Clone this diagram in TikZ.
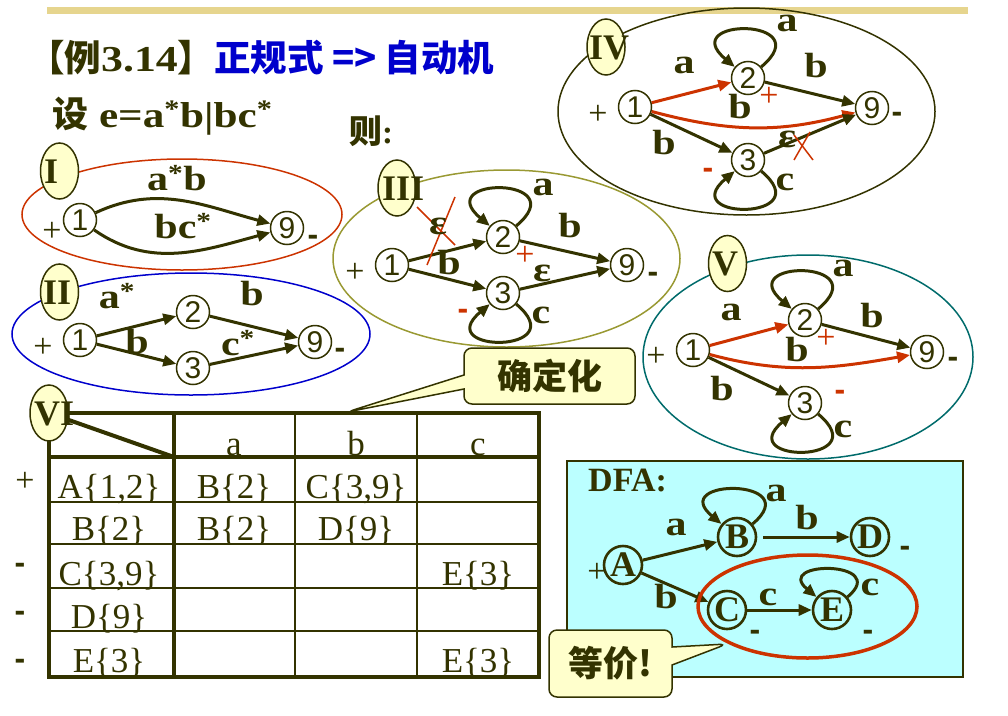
\documentclass[tikz,border=0pt]{standalone}
\usepackage{fontspec}
\usepackage{tikz}
\usetikzlibrary{arrows.meta,shapes.geometric,shapes.callouts}
\setmainfont{Liberation Serif}
\newfontfamily\cjk{Noto Sans CJK SC}
\newfontfamily\sansdigit{Liberation Sans}
\newfontfamily\labfont[FakeStretch=1.2]{Liberation Serif}
\definecolor{ink}{HTML}{333300}
\definecolor{navy}{HTML}{0000CC}
\definecolor{rust}{HTML}{CC3300}
\definecolor{sand}{HTML}{E6D58E}
\definecolor{olive}{HTML}{999933}
\definecolor{teal}{HTML}{006B6B}
\definecolor{note}{HTML}{FFFFCC}
\definecolor{sky}{HTML}{BBFFFF}
\tikzset{
  st/.style={circle, draw=ink, line width=1.5pt, inner sep=0pt, minimum size=33pt, text=ink, font=\sansdigit\fontsize{30}{30}\selectfont},
  dst/.style={circle, draw=ink, line width=2.6pt, inner sep=0pt, minimum size=38pt, text=ink, font=\fontsize{36}{36}\selectfont\bfseries},
  tr/.style={-{Triangle[length=13pt,width=11pt]}, line width=3pt, draw=ink},
  hot/.style={tr, draw=rust},
  lp/.style={tr, looseness=7.5},
  lab/.style={text=ink, font=\labfont\fontsize{35}{35}\selectfont\bfseries, inner sep=0pt},
  pl/.style={text=ink, font=\fontsize{34}{34}\selectfont, inner sep=0pt},
  mn/.style={text=ink, font=\sansdigit\fontsize{32}{32}\selectfont\bfseries, inner sep=0pt},
  tag/.style={ellipse, draw=ink, fill=note, line width=1.5pt, minimum width=38pt, minimum height=56pt, inner sep=0pt},
  roman/.style={text=ink, font=\fontsize{36}{36}\selectfont\bfseries, inner sep=0pt, anchor=west},
  panel/.style={line width=1.5pt},
  strike/.style={draw=rust, line width=1.5pt},
  tline/.style={draw=ink, line width=2.5pt},
  tframe/.style={draw=ink, line width=4pt},
  cellt/.style={text=ink, font=\fontsize{35}{35}\selectfont, inner sep=0pt, anchor=base},
  tipbox/.style={rectangle callout, draw=ink, fill=note, line width=1.5pt, rounded corners=8pt, inner sep=0pt, text=ink, font=\cjk\fontsize{35}{35}\selectfont\bfseries}
}

\begin{document}
\begin{tikzpicture}[x=1pt, y=-1pt]
  \useasboundingbox (0,0) rectangle (1008,715);

  % top rule
  \draw[sand, line width=7pt] (47,10) -- (968,10);

  % heading
  \node[anchor=west, inner sep=0pt, text=ink, font=\fontsize{36.5}{36.5}\selectfont\bfseries] (title) at (28,58)
    {{\cjk 【例}{\labfont 3.14}{\cjk 】}{\cjk\color{navy}正规式 => 自动机}};
  \node[anchor=base west, inner sep=0pt, text=ink, font=\labfont\fontsize{36}{36}\selectfont\bfseries] (expr) at (52,127)
    {{\cjk 设} e=a\textsuperscript{*}b|bc\textsuperscript{*}};
  \node[inner sep=0pt, text=ink, font=\fontsize{33}{33}\selectfont\bfseries] (then) at (371,131) {{\cjk 则}:};

  % panel I
  \draw[panel, rust] (182,214.5) ellipse [x radius=160pt, y radius=55.5pt];
  \node[tag] (tI) at (59.5,171) {};
  \node[roman] at (44,172) {I};
  \node[st] (I1) at (80,220) {1};
  \node[st] (I9) at (287,228) {9};
  \draw[tr] (I1) to[out=25, in=165] (I9);
  \draw[tr] (I1) to[out=-35, in=195] (I9);
  \node[lab] at (177,178) {a\textsuperscript{*}b};
  \node[lab] at (183,226) {bc\textsuperscript{*}};
  \node[pl] at (52,232) {+};
  \node[mn] at (313,240) {-};

  % panel II
  \draw[panel, navy] (191,334) ellipse [x radius=179pt, y radius=61pt];
  \node[tag] (tII) at (59.5,292) {};
  \node[roman] at (43,293) {II};
  \foreach \n/\x/\y in {1/80/340, 2/193/312, 3/193/368, 9/315/342}
    \node[st] (II\n) at (\x,\y) {\n};
  \draw[tr] (II1) -- (II2);
  \draw[tr] (II1) -- (II3);
  \draw[tr] (II2) -- (II9);
  \draw[tr] (II3) -- (II9);
  \foreach \t/\x/\y in {a\textsuperscript{*}/117/296, b/252/294, b/137/342, c\textsuperscript{*}/238/343}
    \node[lab] at (\x,\y) {\t};
  \node[pl] at (43,348) {+};
  \node[mn] at (340,353) {-};

  % panel III
  \draw[panel, olive] (506.5,258.5) ellipse [x radius=173.5pt, y radius=88.5pt];
  \node[tag] (tIII) at (397,188) {};
  \node[roman] at (382,189) {III};
  \foreach \n/\x/\y in {1/392/265, 2/503/237, 3/503/293, 9/627/265}
    \node[st] (III\n) at (\x,\y) {\n};
  \draw[tr] (III1) -- (III2);
  \draw[tr] (III1) -- (III3);
  \draw[tr] (III2) -- (III9);
  \draw[tr] (III3) -- (III9);
  \draw[lp] (III2) to[out=40, in=140] (III2);
  \draw[lp] (III3) to[out=-40, in=-140] (III3);
  \draw[strike] (417,207) -- (455,245);
  \draw[strike] (455,197) -- (427,265);
  \foreach \t/\x/\y in {a/543/187, ε/438/226, b/449/263, b/570/226, ε/542/273, c/541/315}
    \node[lab] at (\x,\y) {\t};
  \node[pl] at (355,273) {+};
  \node[mn] at (653,277) {-};
  \node[pl, text=rust] at (525,256) {+};
  \node[mn, text=rust] at (463,314) {-};

  % panel IV
  \draw[panel, ink] (746.5,111.5) ellipse [x radius=188.5pt, y radius=103.5pt];
  \node[tag] (tIV) at (606,47) {};
  \node[roman] at (589,48) {IV};
  \foreach \n/\x/\y in {1/635/107, 2/748/78, 3/748/160, 9/872/108}
    \node[st] (IV\n) at (\x,\y) {\n};
  \draw[hot] (IV1) -- (IV2);
  \draw[hot] (IV1) to[out=-15, in=195] (IV9);
  \draw[tr] (IV2) -- (IV9);
  \draw[tr] (IV1) -- (IV3);
  \draw[tr] (IV3) -- (IV9);
  \draw[lp] (IV2) to[out=40, in=140] (IV2);
  \draw[lp] (IV3) to[out=-40, in=-140] (IV3);
  \draw[strike] (794,135) -- (813,160);
  \draw[strike] (810,132) -- (794,160);
  \foreach \t/\x/\y in {a/787/23, a/684/65, b/816/66, b/740/107, b/664/143, ε/787/139, c/785/182}
    \node[lab] at (\x,\y) {\t};
  \node[pl] at (598,115) {+};
  \node[mn] at (897,117) {-};
  \node[pl, text=rust] at (769,97) {+};
  \node[mn, text=rust] at (708,173) {-};

  % panel V
  \draw[panel, teal] (808,357) ellipse [x radius=165pt, y radius=102pt];
  \node[tag] (tV) at (727.5,263.5) {};
  \node[roman] at (712,264) {V};
  \foreach \n/\x/\y in {1/693/350, 2/805/320, 3/805/403, 9/927/352}
    \node[st] (V\n) at (\x,\y) {\n};
  \draw[hot] (V1) -- (V2);
  \draw[hot] (V1) to[out=-15, in=190] (V9);
  \draw[tr] (V2) -- (V9);
  \draw[tr] (V1) -- (V3);
  \draw[lp] (V2) to[out=40, in=140] (V2);
  \draw[lp] (V3) to[out=-40, in=-140] (V3);
  \foreach \t/\x/\y in {a/843/268, a/731/312, b/872/316, b/797/350, b/722/389, c/843/429}
    \node[lab] at (\x,\y) {\t};
  \node[pl] at (656,357) {+};
  \node[mn] at (953,362) {-};
  \node[pl, text=rust] at (826,339) {+};
  \node[mn, text=rust] at (840,395) {-};

  % table VI
  \foreach \y in {502,544,588,631}
    \draw[tline] (49,\y) -- (539,\y);
  \foreach \x in {295,417}
    \draw[tline] (\x,413) -- (\x,677);
  \draw[tframe] (174,413) -- (174,677);
  \draw[tframe] (49,457) -- (539,457);
  \draw[tframe] (49,413) -- (174,457);
  \draw[tframe] (49,413) rectangle (539,677);
  \foreach \x/\t in {234/a, 356/b, 478/c}
    \node[cellt] at (\x,455) {\t};
  \foreach \x/\y/\t in {109/498/{A\{1,2\}}, 234/498/{B\{2\}}, 356/498/{C\{3,9\}},
                        109/540/{B\{2\}}, 234/540/{B\{2\}}, 356/540/{D\{9\}},
                        109/585/{C\{3,9\}}, 478/585/{E\{3\}},
                        109/628/{D\{9\}},
                        109/672/{E\{3\}}, 478/672/{E\{3\}}}
    \node[cellt] at (\x,\y) {\t};
  \node[pl] at (25,482) {+};
  \foreach \y in {568,616,664}
    \node[mn] at (20,\y) {-};
  \node[tag] (tVI) at (49,413) {};
  \node[roman] at (34,414) {VI};

  % callout
  \node[tipbox, minimum width=171pt, minimum height=56pt, callout absolute pointer={(347,412)}, callout pointer width=14pt] (fix) at (549.5,376) {确定化};

  % DFA
  \draw[draw=ink, fill=sky, line width=1.5pt] (567,461) rectangle (963,677);
  \node[anchor=west, inner sep=0pt, text=ink, font=\fontsize{34}{34}\selectfont\bfseries] (dfa) at (588,481) {DFA:};
  \foreach \n/\x/\y in {A/623/565, B/737/537, D/870/537, C/727/610, E/832/610}
    \node[dst] (\n) at (\x,\y) {\n};
  \draw[tr] (A) -- (B);
  \draw[tr, shorten <=6pt] (B) -- (D);
  \draw[tr] (A) -- (C);
  \draw[tr] (C) -- (E);
  \draw[lp, looseness=5.9] (B) to[out=40, in=140] (B);
  \draw[lp, looseness=4.7] (E) to[out=40, in=140] (E);
  \foreach \t/\x/\y in {a/676/527, a/776/493, b/807/518, b/666/597, c/768/597, c/870/587}
    \node[lab] at (\x,\y) {\t};
  \node[pl] at (597,573) {+};
  \foreach \x/\y in {905/551, 755/635, 868/635}
    \node[mn] at (\x,\y) {-};
  \draw[rust, line width=3.5pt] (807.5,606.5) ellipse [x radius=109.5pt, y radius=51.5pt];

  \node[tipbox, minimum width=123pt, minimum height=67pt, callout absolute pointer={(727,644)}, callout pointer width=18pt] (same) at (610.5,663.5) {等价!};
\end{tikzpicture}
\end{document}
